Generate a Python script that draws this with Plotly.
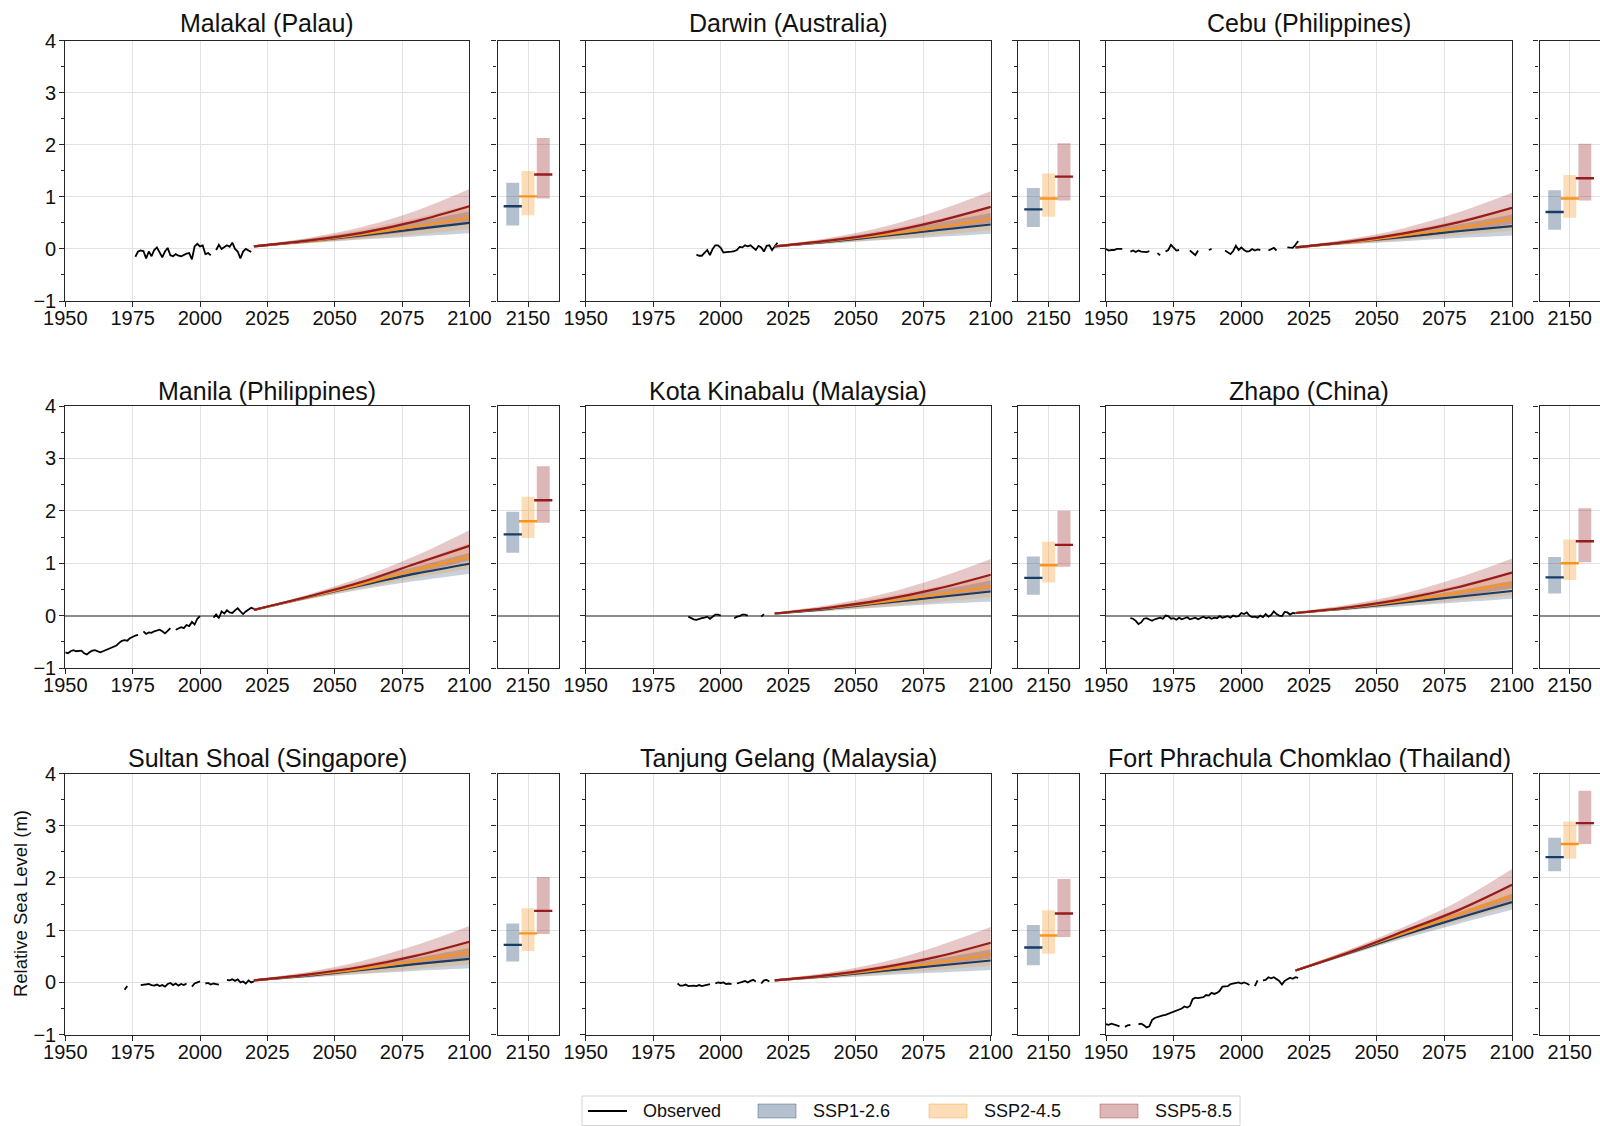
import plotly.graph_objects as go

FONT = "Liberation Sans, Arial, Helvetica, sans-serif"

# ---------------- data ----------------
PROJ_YEARS = [2020, 2040, 2060, 2080, 2100]
SCENARIOS = ["SSP1-2.6", "SSP2-4.5", "SSP5-8.5"]
STATION_NAMES = ["Malakal (Palau)", "Darwin (Australia)", "Cebu (Philippines)",
                 "Manila (Philippines)", "Kota Kinabalu (Malaysia)", "Zhapo (China)",
                 "Sultan Shoal (Singapore)", "Tanjung Gelang (Malaysia)",
                 "Fort Phrachula Chomklao (Thailand)"]

# observed annual relative sea level (m); None = missing year
malakal_obs_start = 1976
malakal_obs = [-0.15, -0.05, -0.03, -0.04, -0.18, -0.05, -0.14, -0.02, 0.03, -0.08,
               -0.16, -0.05, 0.02, -0.12, -0.14, -0.10, -0.13, -0.14, -0.11, -0.09,
               -0.08, -0.20, 0.05, 0.10, 0.05, 0.07, -0.10, -0.08, -0.12, None,
               -0.02, 0.08, 0.00, 0.03, 0.07, 0.04, 0.12, 0.00, -0.05, -0.18,
               -0.05, 0.00, -0.03, -0.06]
darwin_obs_start = 1991
darwin_obs = [-0.11, -0.13, -0.13, -0.07, -0.02, -0.12, 0.00, 0.07, 0.07, 0.02,
              -0.07, -0.06, -0.06, -0.05, -0.04, -0.02, 0.04, 0.03, 0.07, 0.05,
              0.07, 0.02, -0.02, 0.06, 0.03, -0.05, 0.06, 0.07, -0.02, 0.05, 0.12]
cebu_obs_start = 1950
cebu_obs = [0.00, -0.03, -0.02, -0.02, 0.00, 0.00, 0.00, None, None, -0.05,
            -0.03, -0.06, -0.03, -0.05, -0.06, -0.06, -0.04, None, None, -0.08,
            -0.12, None, -0.05, -0.02, 0.08, 0.02, -0.03, -0.02, None, None,
            None, -0.03, -0.08, -0.12, -0.03, None, None, None, -0.02, 0.00,
            None, None, None, None, -0.03, -0.06, -0.10, -0.04, 0.06, -0.02,
            0.03, -0.02, -0.05, -0.04, 0.00, -0.03, -0.01, -0.02, None, None,
            -0.03, 0.00, 0.02, -0.03, None, None, None, 0.03, 0.03, 0.02,
            0.08, 0.15]
manila_obs_start = 1950
manila_obs = [-0.70, -0.72, -0.68, -0.66, -0.68, -0.68, -0.67, -0.72, -0.74, -0.70,
              -0.67, -0.66, -0.68, -0.70, -0.68, -0.66, -0.64, -0.62, -0.60, -0.57,
              -0.52, -0.48, -0.47, -0.48, -0.43, -0.40, -0.38, -0.37, None, -0.30,
              -0.35, -0.32, -0.33, -0.30, -0.28, -0.27, -0.30, -0.34, -0.29, -0.24,
              None, -0.27, -0.25, -0.22, -0.24, -0.18, -0.20, -0.12, -0.17, -0.06,
              -0.01, None, None, None, None, -0.04, 0.02, -0.05, 0.08, 0.04,
              0.10, 0.06, 0.05, 0.10, 0.14, 0.08, 0.03, 0.08, 0.12, 0.15, 0.13]
kota_obs_start = 1988
kota_obs = [-0.02, -0.05, -0.07, -0.08, -0.06, -0.05, -0.04, -0.02, -0.06, -0.02,
            0.02, 0.02, 0.00, None, None, None, None, -0.05, -0.02, -0.01,
            0.02, 0.02, 0.00, None, None, None, None, -0.02, 0.03]
zhapo_obs_start = 1959
zhapo_obs = [-0.05, -0.06, -0.10, -0.16, -0.13, -0.06, -0.05, -0.07, -0.10, -0.07,
             -0.05, -0.04, -0.06, 0.00, -0.01, -0.06, -0.05, -0.08, -0.04, -0.07,
             -0.05, -0.03, -0.07, -0.06, -0.04, -0.07, -0.04, -0.02, -0.05, -0.03,
             -0.06, -0.04, -0.05, -0.01, -0.04, -0.02, -0.01, -0.04, 0.00, -0.02,
             -0.01, 0.05, 0.03, 0.06, 0.00, -0.03, -0.02, -0.04, 0.00, -0.03,
             0.03, -0.02, 0.01, 0.08, 0.03, 0.00, -0.01, 0.07, 0.06, 0.02,
             0.05, 0.04]
sultan_obs_start = 1972
sultan_obs = [-0.14, -0.07, None, None, None, None, -0.05, -0.04, -0.04, -0.03,
              -0.05, -0.06, -0.04, -0.07, -0.05, -0.08, -0.03, -0.01, -0.05, -0.02,
              -0.06, -0.03, -0.05, -0.02, None, -0.08, -0.02, 0.00, 0.02, None,
              -0.02, -0.01, -0.04, -0.02, -0.03, -0.04, None, None, 0.05, 0.04,
              0.06, 0.03, 0.06, 0.00, 0.02, -0.02, 0.04, 0.00, 0.02]
tanjung_obs_start = 1984
tanjung_obs = [-0.02, -0.06, -0.06, -0.04, -0.07, -0.06, -0.06, -0.07, -0.05, -0.07,
               -0.06, -0.05, -0.03, None, -0.02, 0.00, -0.01, 0.00, -0.03, -0.02,
               -0.03, None, -0.02, -0.01, 0.01, 0.03, 0.00, 0.03, 0.05, 0.02,
               None, -0.02, 0.04, 0.05, 0.02]
fort_obs_start = 1950
fort_obs = [-0.80, -0.81, -0.79, -0.80, -0.82, -0.84, None, -0.85, -0.82, -0.81,
            None, None, -0.80, -0.79, -0.82, -0.86, -0.84, -0.72, -0.68, -0.66,
            -0.65, -0.63, -0.62, -0.60, -0.57, -0.56, -0.54, -0.52, -0.50, -0.46,
            -0.48, -0.45, -0.32, -0.29, -0.30, -0.29, -0.28, -0.24, -0.25, -0.20,
            -0.22, -0.20, -0.16, -0.08, -0.08, -0.07, -0.03, -0.02, -0.02, 0.00,
            -0.02, 0.00, -0.02, -0.05, None, -0.07, 0.04, None, 0.04, 0.05,
            0.10, 0.08, 0.10, 0.07, 0.03, -0.04, 0.03, 0.06, 0.09, 0.07,
            0.10, 0.09]

# projections at PROJ_YEARS: median, 17th (lo), 83rd (hi)
malakal_126_med = [0.05, 0.15, 0.26, 0.38, 0.50]
malakal_126_lo = [0.04, 0.11, 0.18, 0.24, 0.30]
malakal_126_hi = [0.07, 0.19, 0.34, 0.52, 0.72]
malakal_245_med = [0.05, 0.15, 0.28, 0.43, 0.60]
malakal_245_lo = [0.04, 0.11, 0.19, 0.28, 0.38]
malakal_245_hi = [0.07, 0.20, 0.37, 0.59, 0.85]
malakal_585_med = [0.05, 0.16, 0.31, 0.53, 0.82]
malakal_585_lo = [0.04, 0.12, 0.22, 0.35, 0.50]
malakal_585_hi = [0.07, 0.21, 0.42, 0.73, 1.15]

darwin_126_med = [0.05, 0.14, 0.25, 0.36, 0.47]
darwin_126_lo = [0.04, 0.10, 0.17, 0.23, 0.29]
darwin_126_hi = [0.07, 0.18, 0.33, 0.50, 0.69]
darwin_245_med = [0.05, 0.15, 0.27, 0.41, 0.58]
darwin_245_lo = [0.04, 0.11, 0.18, 0.27, 0.36]
darwin_245_hi = [0.07, 0.20, 0.36, 0.57, 0.82]
darwin_585_med = [0.05, 0.16, 0.31, 0.53, 0.81]
darwin_585_lo = [0.04, 0.12, 0.22, 0.35, 0.50]
darwin_585_hi = [0.07, 0.21, 0.42, 0.73, 1.11]

cebu_126_med = [0.03, 0.13, 0.23, 0.34, 0.44]
cebu_126_lo = [0.02, 0.09, 0.15, 0.21, 0.26]
cebu_126_hi = [0.05, 0.17, 0.31, 0.47, 0.66]
cebu_245_med = [0.03, 0.13, 0.26, 0.40, 0.58]
cebu_245_lo = [0.02, 0.09, 0.17, 0.26, 0.35]
cebu_245_hi = [0.05, 0.18, 0.34, 0.55, 0.80]
cebu_585_med = [0.03, 0.14, 0.30, 0.51, 0.79]
cebu_585_lo = [0.02, 0.10, 0.20, 0.33, 0.48]
cebu_585_hi = [0.05, 0.19, 0.40, 0.70, 1.08]

manila_126_med = [0.11, 0.35, 0.58, 0.80, 0.99]
manila_126_lo = [0.09, 0.31, 0.50, 0.66, 0.80]
manila_126_hi = [0.13, 0.39, 0.66, 0.93, 1.20]
manila_245_med = [0.11, 0.35, 0.60, 0.87, 1.12]
manila_245_lo = [0.09, 0.31, 0.52, 0.72, 0.90]
manila_245_hi = [0.13, 0.39, 0.68, 1.02, 1.38]
manila_585_med = [0.11, 0.36, 0.64, 0.99, 1.33]
manila_585_lo = [0.09, 0.32, 0.55, 0.80, 1.05]
manila_585_hi = [0.13, 0.40, 0.73, 1.14, 1.63]

kota_126_med = [0.04, 0.13, 0.24, 0.35, 0.46]
kota_126_lo = [0.03, 0.09, 0.16, 0.22, 0.27]
kota_126_hi = [0.06, 0.17, 0.32, 0.48, 0.67]
kota_245_med = [0.04, 0.14, 0.26, 0.40, 0.56]
kota_245_lo = [0.03, 0.10, 0.17, 0.26, 0.35]
kota_245_hi = [0.06, 0.19, 0.35, 0.55, 0.79]
kota_585_med = [0.04, 0.15, 0.30, 0.51, 0.78]
kota_585_lo = [0.03, 0.11, 0.21, 0.34, 0.48]
kota_585_hi = [0.06, 0.20, 0.41, 0.71, 1.08]

zhapo_126_med = [0.05, 0.14, 0.25, 0.36, 0.47]
zhapo_126_lo = [0.04, 0.11, 0.18, 0.25, 0.32]
zhapo_126_hi = [0.07, 0.18, 0.32, 0.48, 0.66]
zhapo_245_med = [0.05, 0.15, 0.28, 0.44, 0.62]
zhapo_245_lo = [0.04, 0.11, 0.20, 0.29, 0.39]
zhapo_245_hi = [0.07, 0.20, 0.37, 0.58, 0.84]
zhapo_585_med = [0.05, 0.16, 0.32, 0.54, 0.82]
zhapo_585_lo = [0.04, 0.12, 0.23, 0.36, 0.52]
zhapo_585_hi = [0.07, 0.21, 0.42, 0.72, 1.09]

sultan_126_med = [0.04, 0.13, 0.24, 0.35, 0.45]
sultan_126_lo = [0.03, 0.09, 0.16, 0.22, 0.27]
sultan_126_hi = [0.06, 0.17, 0.31, 0.47, 0.66]
sultan_245_med = [0.04, 0.14, 0.26, 0.41, 0.58]
sultan_245_lo = [0.03, 0.10, 0.17, 0.26, 0.35]
sultan_245_hi = [0.06, 0.19, 0.35, 0.55, 0.80]
sultan_585_med = [0.04, 0.15, 0.30, 0.51, 0.78]
sultan_585_lo = [0.03, 0.11, 0.21, 0.34, 0.48]
sultan_585_hi = [0.06, 0.20, 0.41, 0.71, 1.08]

tanjung_126_med = [0.04, 0.12, 0.22, 0.32, 0.42]
tanjung_126_lo = [0.03, 0.08, 0.14, 0.19, 0.24]
tanjung_126_hi = [0.06, 0.16, 0.29, 0.45, 0.63]
tanjung_245_med = [0.04, 0.13, 0.25, 0.38, 0.54]
tanjung_245_lo = [0.03, 0.09, 0.16, 0.24, 0.32]
tanjung_245_hi = [0.06, 0.18, 0.33, 0.52, 0.76]
tanjung_585_med = [0.04, 0.14, 0.29, 0.49, 0.76]
tanjung_585_lo = [0.03, 0.10, 0.20, 0.32, 0.46]
tanjung_585_hi = [0.06, 0.19, 0.39, 0.69, 1.06]

fort_126_med = [0.23, 0.57, 0.91, 1.23, 1.54]
fort_126_lo = [0.21, 0.53, 0.84, 1.12, 1.39]
fort_126_hi = [0.25, 0.61, 0.98, 1.34, 1.70]
fort_245_med = [0.23, 0.58, 0.94, 1.30, 1.66]
fort_245_lo = [0.21, 0.54, 0.86, 1.17, 1.47]
fort_245_hi = [0.25, 0.62, 1.01, 1.42, 1.87]
fort_585_med = [0.23, 0.58, 0.98, 1.38, 1.87]
fort_585_lo = [0.21, 0.54, 0.89, 1.22, 1.58]
fort_585_hi = [0.25, 0.63, 1.06, 1.55, 2.17]

# 2150 ranges per scenario [SSP1-2.6, SSP2-4.5, SSP5-8.5]
malakal_2150_lo = [0.45, 0.65, 0.97]
malakal_2150_med = [0.82, 1.01, 1.43]
malakal_2150_hi = [1.27, 1.50, 2.13]
darwin_2150_lo = [0.42, 0.62, 0.93]
darwin_2150_med = [0.76, 0.97, 1.39]
darwin_2150_hi = [1.17, 1.45, 2.03]
cebu_2150_lo = [0.37, 0.60, 0.93]
cebu_2150_med = [0.71, 0.97, 1.36]
cebu_2150_hi = [1.13, 1.42, 2.02]
manila_2150_lo = [1.20, 1.48, 1.77]
manila_2150_med = [1.55, 1.80, 2.20]
manila_2150_hi = [1.98, 2.27, 2.85]
kota_2150_lo = [0.40, 0.63, 0.93]
kota_2150_med = [0.72, 0.96, 1.35]
kota_2150_hi = [1.13, 1.41, 2.00]
zhapo_2150_lo = [0.42, 0.68, 1.02]
zhapo_2150_med = [0.73, 1.00, 1.42]
zhapo_2150_hi = [1.12, 1.45, 2.05]
sultan_2150_lo = [0.40, 0.60, 0.93]
sultan_2150_med = [0.72, 0.94, 1.37]
sultan_2150_hi = [1.13, 1.42, 2.02]
tanjung_2150_lo = [0.33, 0.55, 0.87]
tanjung_2150_med = [0.67, 0.90, 1.32]
tanjung_2150_hi = [1.10, 1.38, 1.98]
fort_2150_lo = [2.13, 2.37, 2.65]
fort_2150_med = [2.40, 2.65, 3.05]
fort_2150_hi = [2.77, 3.08, 3.67]

STATIONS = [
    (malakal_obs_start, malakal_obs,
     [(malakal_126_med, malakal_126_lo, malakal_126_hi), (malakal_245_med, malakal_245_lo, malakal_245_hi),
      (malakal_585_med, malakal_585_lo, malakal_585_hi)], (malakal_2150_lo, malakal_2150_med, malakal_2150_hi)),
    (darwin_obs_start, darwin_obs,
     [(darwin_126_med, darwin_126_lo, darwin_126_hi), (darwin_245_med, darwin_245_lo, darwin_245_hi),
      (darwin_585_med, darwin_585_lo, darwin_585_hi)], (darwin_2150_lo, darwin_2150_med, darwin_2150_hi)),
    (cebu_obs_start, cebu_obs,
     [(cebu_126_med, cebu_126_lo, cebu_126_hi), (cebu_245_med, cebu_245_lo, cebu_245_hi),
      (cebu_585_med, cebu_585_lo, cebu_585_hi)], (cebu_2150_lo, cebu_2150_med, cebu_2150_hi)),
    (manila_obs_start, manila_obs,
     [(manila_126_med, manila_126_lo, manila_126_hi), (manila_245_med, manila_245_lo, manila_245_hi),
      (manila_585_med, manila_585_lo, manila_585_hi)], (manila_2150_lo, manila_2150_med, manila_2150_hi)),
    (kota_obs_start, kota_obs,
     [(kota_126_med, kota_126_lo, kota_126_hi), (kota_245_med, kota_245_lo, kota_245_hi),
      (kota_585_med, kota_585_lo, kota_585_hi)], (kota_2150_lo, kota_2150_med, kota_2150_hi)),
    (zhapo_obs_start, zhapo_obs,
     [(zhapo_126_med, zhapo_126_lo, zhapo_126_hi), (zhapo_245_med, zhapo_245_lo, zhapo_245_hi),
      (zhapo_585_med, zhapo_585_lo, zhapo_585_hi)], (zhapo_2150_lo, zhapo_2150_med, zhapo_2150_hi)),
    (sultan_obs_start, sultan_obs,
     [(sultan_126_med, sultan_126_lo, sultan_126_hi), (sultan_245_med, sultan_245_lo, sultan_245_hi),
      (sultan_585_med, sultan_585_lo, sultan_585_hi)], (sultan_2150_lo, sultan_2150_med, sultan_2150_hi)),
    (tanjung_obs_start, tanjung_obs,
     [(tanjung_126_med, tanjung_126_lo, tanjung_126_hi), (tanjung_245_med, tanjung_245_lo, tanjung_245_hi),
      (tanjung_585_med, tanjung_585_lo, tanjung_585_hi)], (tanjung_2150_lo, tanjung_2150_med, tanjung_2150_hi)),
    (fort_obs_start, fort_obs,
     [(fort_126_med, fort_126_lo, fort_126_hi), (fort_245_med, fort_245_lo, fort_245_hi),
      (fort_585_med, fort_585_lo, fort_585_hi)], (fort_2150_lo, fort_2150_med, fort_2150_hi)),
]

# ---------------- styling / layout ----------------
W, H = 1600, 1126
LINE_COLORS = ["#173c66", "#f79420", "#951b1e"]
RGB = [(23, 60, 102), (247, 148, 32), (149, 27, 30)]
BAND_ALPHA = 0.24
BOX_ALPHA = 0.32
SIDE_POS = [2140, 2150, 2160]
BOX_W = 8.5

MAIN_PX = [(65.3, 469.4), (585.7, 990.8), (1106.0, 1512.0)]
SIDE_PX = [(497.5, 558.5), (1018.0, 1079.3), (1539.5, 1600.0)]
ROW_PX = [(40.8, 301.0), (406.0, 668.0), (773.5, 1034.7)]
TITLE_Y = [22.5, 391.0, 757.5]


def px_x(v):
    return v / W


def px_y(v):
    return 1 - v / H


def rgba(rgb, a):
    return "rgba(%d,%d,%d,%.3f)" % (rgb[0], rgb[1], rgb[2], a)


AXC = "#262626"
GRID = "#e2e2e2"
TICKFONT = dict(family=FONT, size=20, color="#111111")

fig = go.Figure()
layout = dict(
    width=W, height=H, margin=dict(l=0, r=0, t=0, b=0, autoexpand=False),
    paper_bgcolor="white", plot_bgcolor="white", showlegend=False,
    font=dict(family=FONT, size=18, color="#111111"),
    annotations=[], shapes=[],
)

for p, (obs_start, obs, proj, side) in enumerate(STATIONS):
    r, c = divmod(p, 3)
    mi, si = 2 * p + 1, 2 * p + 2
    xm, ym = "x%d" % mi, "y%d" % mi
    xs, ys = "x%d" % si, "y%d" % si
    xm_key = "xaxis" if mi == 1 else "xaxis%d" % mi
    ym_key = "yaxis" if mi == 1 else "yaxis%d" % mi
    xs_key, ys_key = "xaxis%d" % si, "yaxis%d" % si
    ydom = [px_y(ROW_PX[r][1]), px_y(ROW_PX[r][0])]

    base = dict(showline=True, linecolor=AXC, linewidth=1.2, mirror=True,
                ticks="outside", ticklen=5, tickwidth=1.1, tickcolor=AXC,
                showgrid=True, gridcolor=GRID, gridwidth=1, tickfont=TICKFONT,
                automargin=False)
    yextra = dict(range=[-1, 4], tickmode="linear", tick0=-1, dtick=1,
                  minor=dict(ticks="outside", ticklen=3, tickwidth=1, tickcolor=AXC,
                             tickmode="linear", tick0=-1, dtick=0.5, showgrid=False),
                  zeroline=(r == 1), zerolinecolor="#8c8c8c", zerolinewidth=1.5,
                  ticklabelstandoff=-1)
    xextra = dict(zeroline=False, ticklabelstandoff=-6)

    layout[xm_key] = dict(base, domain=[px_x(MAIN_PX[c][0]), px_x(MAIN_PX[c][1])], anchor=ym,
                          range=[1950, 2100], tickmode="linear", tick0=1950, dtick=25,
                          **xextra)
    layout[ym_key] = dict(base, domain=ydom, anchor=xm, showticklabels=(c == 0), **yextra)
    layout[xs_key] = dict(base, domain=[px_x(SIDE_PX[c][0]), px_x(SIDE_PX[c][1])], anchor=ys,
                          range=[2130, 2170], tickmode="array", tickvals=[2150],
                          **xextra)
    ys_ax = dict(base, domain=ydom, anchor=xs, showticklabels=False, **yextra)
    if c == 2:
        ys_ax["mirror"] = False
    layout[ys_key] = ys_ax

    # observed
    years = list(range(obs_start, obs_start + len(obs)))
    fig.add_trace(go.Scatter(x=years, y=obs, mode="lines", xaxis=xm, yaxis=ym,
                             line=dict(color="black", width=1.8), connectgaps=False,
                             hoverinfo="skip"))
    # projection bands
    for k, (med, lo, hi) in enumerate(proj):
        fig.add_trace(go.Scatter(x=PROJ_YEARS, y=lo, mode="lines", xaxis=xm, yaxis=ym,
                                 line=dict(width=0, shape="spline", color=rgba(RGB[k], 0)),
                                 hoverinfo="skip"))
        fig.add_trace(go.Scatter(x=PROJ_YEARS, y=hi, mode="lines", xaxis=xm, yaxis=ym,
                                 line=dict(width=0, shape="spline", color=rgba(RGB[k], 0)),
                                 fill="tonexty", fillcolor=rgba(RGB[k], BAND_ALPHA),
                                 hoverinfo="skip"))
    for k, (med, lo, hi) in enumerate(proj):
        fig.add_trace(go.Scatter(x=PROJ_YEARS, y=med, mode="lines", xaxis=xm, yaxis=ym,
                                 line=dict(width=2.2, shape="spline", color=LINE_COLORS[k]),
                                 hoverinfo="skip"))
    # 2150 boxes
    lo150, med150, hi150 = side
    fig.add_trace(go.Bar(x=SIDE_POS, y=[h - l for h, l in zip(hi150, lo150)], base=lo150,
                         width=BOX_W, xaxis=xs, yaxis=ys,
                         marker=dict(color=[rgba(RGB[k], BOX_ALPHA) for k in range(3)],
                                     line=dict(width=0)),
                         hoverinfo="skip"))
    fig.add_trace(go.Scatter(x=SIDE_POS, y=med150, mode="markers", xaxis=xs, yaxis=ys,
                             marker=dict(symbol="line-ew", size=13,
                                         line=dict(width=2.4, color=LINE_COLORS)),
                             hoverinfo="skip"))

    # title
    layout["annotations"].append(dict(
        text=STATION_NAMES[p], xref="paper", yref="paper",
        x=px_x((MAIN_PX[c][0] + MAIN_PX[c][1]) / 2), y=px_y(TITLE_Y[r]),
        xanchor="center", yanchor="middle", showarrow=False,
        font=dict(family=FONT, size=25, color="#111111")))

# y-axis title
layout["annotations"].append(dict(
    text="Relative Sea Level (m)", xref="paper", yref="paper",
    x=px_x(20), y=px_y((ROW_PX[2][0] + ROW_PX[2][1]) / 2), textangle=-90,
    xanchor="center", yanchor="middle", showarrow=False,
    font=dict(family=FONT, size=18.5, color="#111111")))

# legend (drawn manually to match patch style)
LEG_TOP, LEG_BOT = 1096, 1125.5
LEG_L, LEG_R = 582, 1240
LEG_CY = 1111
layout["shapes"].append(dict(type="rect", xref="paper", yref="paper",
                             x0=px_x(LEG_L), x1=px_x(LEG_R), y0=px_y(LEG_BOT), y1=px_y(LEG_TOP),
                             line=dict(color="#d4d4d4", width=1), fillcolor="white", layer="above"))
layout["shapes"].append(dict(type="line", xref="paper", yref="paper",
                             x0=px_x(588), x1=px_x(627), y0=px_y(LEG_CY), y1=px_y(LEG_CY),
                             line=dict(color="black", width=1.8), layer="above"))
layout["annotations"].append(dict(text="Observed", xref="paper", yref="paper",
                                  x=px_x(641), y=px_y(LEG_CY), xanchor="left", yanchor="middle",
                                  showarrow=False, font=dict(family=FONT, size=18, color="#111111")))
for k, (px0, tx) in enumerate([(758, 811), (929, 982), (1100, 1153)]):
    layout["shapes"].append(dict(type="rect", xref="paper", yref="paper",
                                 x0=px_x(px0), x1=px_x(px0 + 38), y0=px_y(1118), y1=px_y(1104),
                                 line=dict(color=rgba(RGB[k], 0.36), width=1),
                                 fillcolor=rgba(RGB[k], BOX_ALPHA), layer="above"))
    layout["annotations"].append(dict(text=SCENARIOS[k], xref="paper", yref="paper",
                                      x=px_x(tx), y=px_y(LEG_CY), xanchor="left", yanchor="middle",
                                      showarrow=False,
                                      font=dict(family=FONT, size=18, color="#111111")))

fig.update_layout(**layout)
fig.write_html("out.html")
